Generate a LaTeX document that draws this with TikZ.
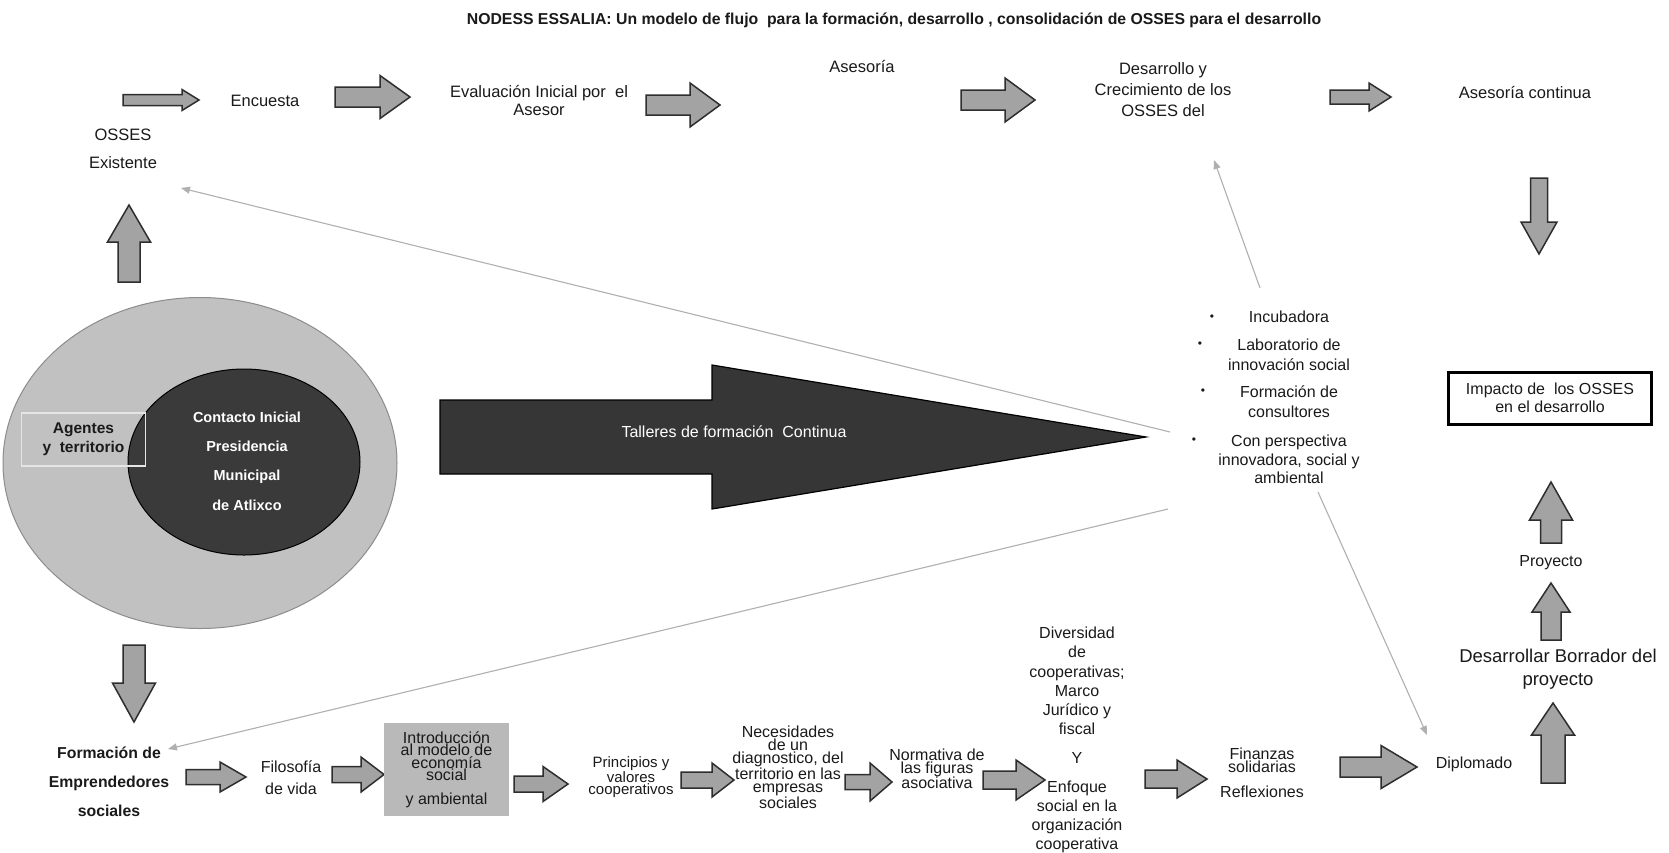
\documentclass[tikz,border=0pt]{standalone}
\usepackage{fontspec}
\setmainfont{Liberation Sans}
\usetikzlibrary{arrows.meta,shapes.geometric}
\definecolor{arrfill}{HTML}{A3A3A3}
\definecolor{arrline}{HTML}{2E2E2E}
\definecolor{ringfill}{HTML}{C1C1C1}
\definecolor{ringline}{HTML}{8C8C8C}
\definecolor{darkfill}{HTML}{3A3A3A}
\definecolor{tallfill}{HTML}{363636}
\definecolor{boxfill}{HTML}{B9B9B9}
\definecolor{thinline}{HTML}{B0B0B0}
\definecolor{txt}{HTML}{1A1A1A}
\tikzset{
  blockarr/.style={fill=arrfill, draw=arrline, line width=1.5pt, line join=miter},
  lbl/.style={inner sep=0pt, align=center, text=txt, font=\fontsize{16}{19}\selectfont},
  toptxt/.style={font=\fontsize{16.5}{18}\selectfont},
  tight/.style={font=\fontsize{16}{12.6}\selectfont},
  bul/.style={inner sep=0pt, text=txt, font=\fontsize{12}{12}\selectfont},
  thinarr/.style={draw=thinline, line width=1.1pt, -{Triangle[length=9pt,width=7pt]}}
}
% right arrow: x1, x2(tip), y, shaft half, head half, head length
\newcommand\BArR[6]{\draw[blockarr] (#1,#3-#4) -- (#2-#6,#3-#4) -- (#2-#6,#3-#5) -- (#2,#3) -- (#2-#6,#3+#5) -- (#2-#6,#3+#4) -- (#1,#3+#4) -- cycle;}
% up arrow: x, ytip, ybottom, shaft half, head half, head length
\newcommand\BArU[6]{\draw[blockarr] (#1-#4,#3) -- (#1-#4,#2+#6) -- (#1-#5,#2+#6) -- (#1,#2) -- (#1+#5,#2+#6) -- (#1+#4,#2+#6) -- (#1+#4,#3) -- cycle;}
% down arrow: x, ytop, ytip, shaft half, head half, head length
\newcommand\BArD[6]{\draw[blockarr] (#1-#4,#2) -- (#1-#4,#3-#6) -- (#1-#5,#3-#6) -- (#1,#3) -- (#1+#5,#3-#6) -- (#1+#4,#3-#6) -- (#1+#4,#2) -- cycle;}
\begin{document}
\begin{tikzpicture}[x=1pt,y=-1pt]
\useasboundingbox (0,0) rectangle (1669,852);
\fill[white] (0,0) rectangle (1669,852);

% title
\node[lbl, font=\bfseries\fontsize{15.8}{19}\selectfont] (title) at (894,20) {NODESS ESSALIA: Un modelo de flujo\ \ para la formación, desarrollo , consolidación de OSSES para el desarrollo};

% top row
\node[lbl,toptxt] (osses) at (123,149) {OSSES\\[10pt]Existente};
\node[lbl,toptxt] (encuesta) at (265,101) {Encuesta};
\node[lbl,toptxt] (evaluacion) at (539,101) {Evaluación Inicial por\ \ el\\Asesor};
\node[lbl,toptxt] (asesoria) at (862,67) {Asesoría};
\node[lbl,toptxt, font=\fontsize{16.5}{21}\selectfont] (desarrollo) at (1163,90) {Desarrollo y\\Crecimiento de los\\OSSES del};
\node[lbl,toptxt] (asesoriac) at (1525,93) {Asesoría continua};

\BArR{123}{199}{100}{5.5}{10.5}{17}
\BArR{335}{410}{97}{10}{21.5}{30}
\BArR{646}{720}{105}{10}{22}{30}
\BArR{961}{1035}{100}{10}{22}{30}
\BArR{1330}{1391}{97}{7}{14}{22}
\BArD{1539}{178}{254}{8.5}{18}{32}
\BArU{129}{205}{282}{11}{21.5}{37}

% circles
\node[ellipse, minimum width=394pt, minimum height=331pt, fill=ringfill, draw=ringline, line width=1pt, inner sep=0pt] (outer) at (200,463) {};
\node[ellipse, minimum width=232pt, minimum height=186pt, fill=darkfill, draw=black, line width=1pt, inner sep=0pt] (inner) at (244,462) {};
\node[lbl, text=white, font=\bfseries\fontsize{14.5}{29.3}\selectfont] (contacto) at (247,461) {Contacto Inicial\\Presidencia\\Municipal\\de Atlixco};
\node[lbl, draw=white!90!black, line width=1.3pt, minimum width=124pt, minimum height=53pt, font=\bfseries\fontsize{15.5}{19}\selectfont] (agentes) at (83.5,439.5) {Agentes\\y\ \ territorio};

% big arrow
\draw[fill=tallfill, draw=black, line width=1.2pt, line join=miter] (440,400) -- (712,400) -- (712,365) -- (1146,437) -- (712,509) -- (712,474) -- (440,474) -- cycle;
\node[lbl, text=white] (talleres) at (734,432) {Talleres de formación\ \ Continua};

% bullet list
\node[bul] (bu1) at (1212,318) {•};
\node[lbl] (incubadora) at (1289,317) {Incubadora};
\node[bul] (bu2) at (1200,345) {•};
\node[lbl, font=\fontsize{16}{20}\selectfont] (laboratorio) at (1289,355) {Laboratorio de\\innovación social};
\node[bul] (bu3) at (1203,392) {•};
\node[lbl, font=\fontsize{16}{20}\selectfont] (formcons) at (1289,402) {Formación de\\consultores};
\node[bul] (bu4) at (1194,441) {•};
\node[lbl, font=\fontsize{16}{18.5}\selectfont] (perspectiva) at (1289,459.5) {Con perspectiva\\innovadora, social y\\ambiental};

% thin connectors
\coordinate (hubA) at (1170,432);
\coordinate (hubB) at (1260,288);
\coordinate (hubC) at (1168,509);
\coordinate (hubD) at (1318,492);
\coordinate (osEnd) at (181,188);
\coordinate (deEnd) at (1214,160);
\coordinate (foEnd) at (168,749);
\coordinate (diEnd) at (1427,735);
\draw[thinarr] (hubA) -- (osEnd);
\draw[thinarr] (hubB) -- (deEnd);
\draw[thinarr] (hubC) -- (foEnd);
\draw[thinarr] (hubD) -- (diEnd);

% right column
\node[lbl, draw=black, line width=3pt, minimum width=203pt, minimum height=52pt, font=\fontsize{16}{18}\selectfont] (impacto) at (1550,398) {Impacto de\ \ los OSSES\\en el desarrollo};
\BArU{1551}{482}{543}{10.5}{21.5}{38}
\node[lbl] (proyecto) at (1551,563) {Proyecto};
\BArU{1551}{583}{640}{10}{19}{29}
\node[lbl, font=\fontsize{18.5}{23}\selectfont] (borrador) at (1558,669) {Desarrollar Borrador del\\proyecto};
\BArU{1553}{703}{783}{12}{21.5}{32}

% bottom row
\BArD{134}{645}{722}{11}{21.5}{39}
\node[lbl, font=\bfseries\fontsize{15.8}{29}\selectfont] (formacion) at (109,782) {Formación de\\Emprendedores\\sociales};
\BArR{186}{246}{777}{7.5}{15}{26}
\node[lbl, font=\fontsize{16}{21.5}\selectfont] (filosofia) at (291,777.5) {Filosofía\\de vida};
\BArR{332}{384}{774.5}{8}{17.5}{23}
\node[lbl, tight, fill=boxfill, minimum width=125pt, minimum height=93pt] (intro) at (446.5,769.5) {Introducción\\al modelo de\\economía\\social\\[11pt]y ambiental};
\BArR{514}{568}{784}{8}{17.5}{25}
\node[lbl, font=\fontsize{15}{12.4}\selectfont] (principios) at (631,777) {Principios y\\valores\\cooperativos};
\BArR{681}{734}{780}{8}{17}{22}
\node[lbl, font=\fontsize{16}{13}\selectfont] (necesidades) at (788,767.5) {Necesidades\\de un\\diagnostico, del\\territorio en las\\empresas\\sociales};
\BArR{845}{892}{782}{7.5}{19}{22}
\node[lbl, tight] (normativa) at (937,769) {Normativa de\\las figuras\\asociativa};
\BArR{983}{1045}{780}{9}{20}{29}
\node[lbl, font=\fontsize{16}{19.2}\selectfont] (diversidad) at (1077,681) {Diversidad\\de\\cooperativas;\\Marco\\Jurídico y\\fiscal};
\node[lbl] (yy) at (1077,758) {Y};
\node[lbl, font=\fontsize{16}{19}\selectfont] (enfoque) at (1077,817) {Enfoque\\social en la\\organización\\cooperativa};
\BArR{1145}{1207}{779}{9}{19}{30}
\node[lbl, font=\fontsize{16}{11.5}\selectfont] (finanzas) at (1262,760) {Finanzas\\solidarias};
\node[lbl] (reflexiones) at (1262,792) {Reflexiones};
\BArR{1340}{1417}{767}{10}{21.5}{36}
\node[lbl] (diplomado) at (1474,764) {Diplomado};
\end{tikzpicture}
\end{document}
